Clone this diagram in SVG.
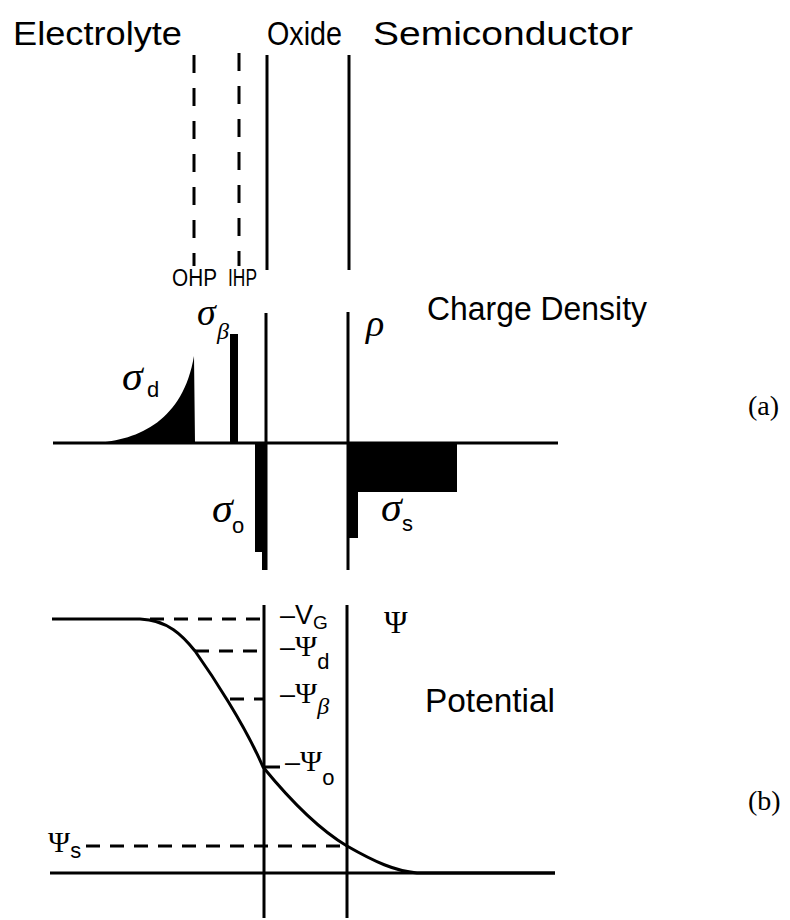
<svg xmlns="http://www.w3.org/2000/svg" width="790" height="920" viewBox="0 0 790 920">
<style>
.ln{stroke:#000;stroke-width:3;fill:none}
.dsh{stroke:#000;stroke-width:3;fill:none;stroke-dasharray:18 15}
.hd{stroke:#000;stroke-width:3;fill:none;stroke-dasharray:14 10}
.fill{fill:#000;stroke:none}
.sans{font-family:"Liberation Sans","DejaVu Sans",sans-serif;fill:#000}
.gr{font-family:"Liberation Serif","DejaVu Serif",serif;font-style:italic;fill:#000}
.up{font-family:"Liberation Serif","DejaVu Serif",serif;font-style:normal;fill:#000}
.rm{font-family:"Liberation Serif","DejaVu Serif",serif;fill:#000}
</style>
<rect width="790" height="920" fill="#fff"/>
<g id="headers">
<text class="sans" x="13" y="45" font-size="34" textLength="169" lengthAdjust="spacingAndGlyphs">Electrolyte</text>
<text class="sans" x="267" y="45" font-size="34" textLength="75" lengthAdjust="spacingAndGlyphs">Oxide</text>
<text class="sans" x="373" y="45" font-size="34" textLength="260" lengthAdjust="spacingAndGlyphs">Semiconductor</text>
</g>
<g id="planes-top">
<line class="dsh" x1="194" y1="55" x2="194" y2="266"/>
<line class="dsh" x1="239" y1="53" x2="239" y2="266"/>
<line class="ln" x1="267" y1="55" x2="267" y2="270"/>
<line class="ln" x1="349" y1="55" x2="349" y2="270"/>
<text class="sans" x="172" y="286" font-size="23" textLength="45" lengthAdjust="spacingAndGlyphs">OHP</text>
<text class="sans" x="228" y="286" font-size="23" textLength="29" lengthAdjust="spacingAndGlyphs">IHP</text>
</g>
<g id="charge-density">
<line class="ln" x1="53" y1="443" x2="558" y2="443"/>
<line class="ln" x1="266" y1="313" x2="266" y2="570"/>
<line class="ln" x1="348" y1="312" x2="348" y2="570"/>
<path class="fill" d="M95,443 C140,440 183,420 194,356 L195,443 Z"/>
<rect class="fill" x="230" y="334" width="8" height="109"/>
<path class="fill" d="M255,443 L266,443 L266,570 L262,570 L262,552 L255,552 Z"/>
<path class="fill" d="M348,443 L457,443 L457,492 L358,492 L358,538 L348,538 Z"/>
<text class="sans" x="427" y="320" font-size="34" textLength="220" lengthAdjust="spacingAndGlyphs">Charge Density</text>
<text class="gr" x="122" y="390" font-size="42">σ</text>
<text class="sans" x="147" y="397" font-size="22">d</text>
<text class="gr" x="197" y="325" font-size="38">σ</text>
<text class="gr" x="217" y="339" font-size="24">β</text>
<text class="gr" x="366" y="336" font-size="38">ρ</text>
<text class="gr" x="212" y="522" font-size="42">σ</text>
<text class="sans" x="232" y="533" font-size="22">o</text>
<text class="gr" x="381" y="521" font-size="42">σ</text>
<text class="sans" x="402" y="531" font-size="22">s</text>
<text class="rm" x="748" y="415" font-size="28">(a)</text>
</g>
<g id="potential">
<line class="ln" x1="50" y1="873" x2="555" y2="873"/>
<line class="ln" x1="264" y1="605" x2="264" y2="918"/>
<line class="ln" x1="347" y1="605" x2="347" y2="918"/>
<line class="hd" x1="150" y1="619" x2="266" y2="619"/>
<line class="hd" x1="195" y1="651" x2="264" y2="651"/>
<line class="hd" x1="230" y1="699" x2="264" y2="699"/>
<line class="ln" x1="264" y1="767" x2="280" y2="767"/>
<line class="hd" x1="86" y1="846" x2="347" y2="846"/>
<path class="ln" d="M52,619 L140,619 C168,620 183,636 195,651 C212,675 245,725 263,767 C290,800 320,830 347,846 C375,862 395,871 417,873 L555,873"/>
<text class="sans" x="280" y="624" font-size="27">–V<tspan font-size="19" dy="5">G</tspan></text>
<text class="sans" x="280" y="656" font-size="27">–<tspan class="up" font-size="30">Ψ</tspan><tspan font-size="22" dy="13">d</tspan></text>
<text class="sans" x="280" y="703" font-size="27">–<tspan class="up" font-size="30">Ψ</tspan><tspan class="gr" font-size="24" dy="11">β</tspan></text>
<text class="sans" x="285" y="771" font-size="27">–<tspan class="up" font-size="30">Ψ</tspan><tspan font-size="22" dy="14">o</tspan></text>
<text class="up" x="48" y="852" font-size="30">Ψ<tspan class="sans" font-size="22" dy="6">s</tspan></text>
<text class="up" x="384" y="633" font-size="32">Ψ</text>
<text class="sans" x="425" y="712" font-size="34" textLength="130" lengthAdjust="spacingAndGlyphs">Potential</text>
<text class="rm" x="748" y="810" font-size="28">(b)</text>
</g>
</svg>
